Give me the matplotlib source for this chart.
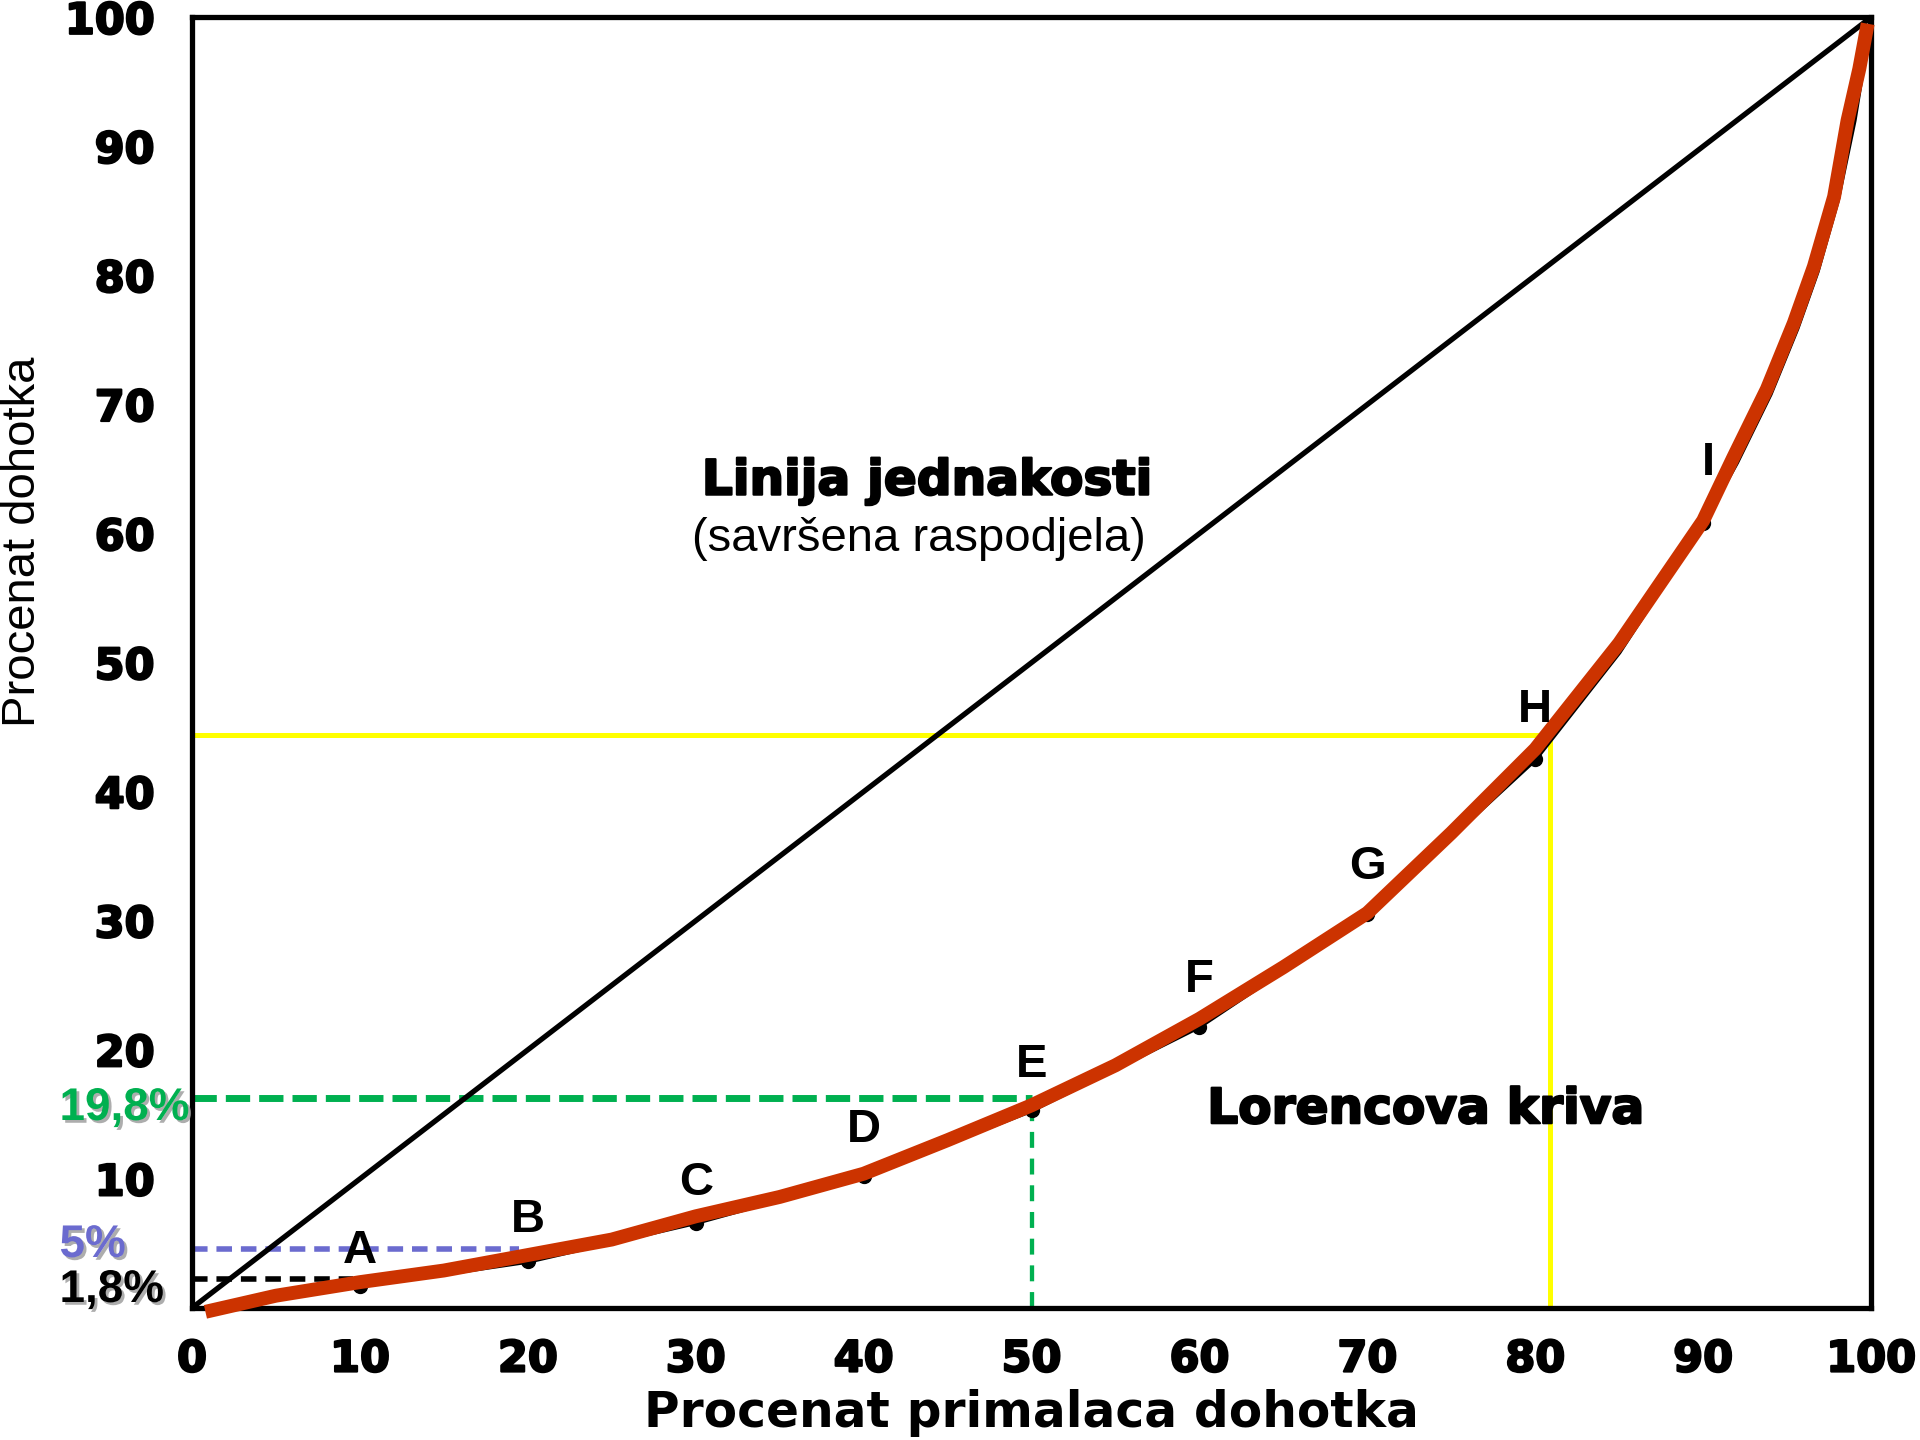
import matplotlib.pyplot as plt
import matplotlib.patheffects as pe

# Lorenz curve as drawn (red), percent of income receivers vs percent of income
red_x = [0.8, 5, 10, 15, 20, 25, 30, 35, 40, 45, 50, 55, 60, 65, 70, 75, 80, 85, 90,
         91.8, 93.8, 95.4, 96.6, 97.8, 98.6, 99.3, 99.8]
red_y = [-0.3, 0.95, 2.0, 2.9, 4.1, 5.3, 7.1, 8.6, 10.4, 13.0, 15.7, 18.8, 22.4, 26.4, 30.6,
         36.8, 43.3, 51.5, 61.0, 65.9, 71.2, 76.3, 80.7, 86.1, 92.0, 96.0, 99.5]

# original black curve under the red one
black_x = [10, 20, 30, 40, 50, 60, 70, 80, 85, 90, 92, 94, 95.6, 96.8, 98, 99, 100]
black_y = [1.7, 3.6, 6.6, 10.2, 15.3, 21.8, 30.5, 42.5, 50.8, 60.8, 65.5, 70.8, 75.9, 80.3, 85.8, 92.0, 100]

# labelled points A..I
point_names = ["A", "B", "C", "D", "E", "F", "G", "H", "I"]
point_x = [10, 20, 30, 40, 50, 60, 70, 80, 90]
point_y = [1.7, 3.6, 6.6, 10.2, 15.3, 21.8, 30.5, 42.5, 60.8]
label_x = [10, 20, 30, 40, 50, 60, 70, 80, 90.3]
label_y = [4.4, 6.8, 9.7, 13.8, 18.8, 25.4, 34.2, 46.3, 65.5]

xticks = [0, 10, 20, 30, 40, 50, 60, 70, 80, 90, 100]
yticks = [10, 20, 30, 40, 50, 60, 70, 80, 90, 100]

# guide lines (level, end)
green_level, green_x = 16.3, 50
blue_level, blue_end = 4.55, 19.5
black_level, black_end = 2.28, 9.6
yellow_level, yellow_x = 44.4, 80.9

red = "#CC3300"
green = "#00B050"
blue = "#6B6BCF"
yellow = "#FFFF00"

heavy = [pe.withStroke(linewidth=1.6, foreground="black")]

fig = plt.figure(figsize=(19.2, 14.4), dpi=100)
ax = fig.add_axes([0.1, 0.0917, 0.8745, 0.8963])
ax.set_xlim(0, 100)
ax.set_ylim(0, 100)

# guide lines
ax.plot([0, yellow_x], [yellow_level, yellow_level], color=yellow, lw=3.6)
ax.plot([yellow_x, yellow_x], [0, yellow_level], color=yellow, lw=3.6)
ax.plot([0, green_x], [green_level, green_level], color=green, lw=5, ls=(0, (3.5, 1.3)))
ax.plot([green_x, green_x], [0, green_level], color=green, lw=3.1, ls=(0, (3.7, 2.5)))
ax.plot([0, blue_end], [blue_level, blue_level], color=blue, lw=4, ls=(0, (2.8, 1.6)))
ax.plot([0, black_end], [black_level, black_level], color="black", lw=4, ls=(0, (2.8, 1.6)))

# line of equality
ax.plot([0, 100], [0, 100], color="black", lw=3.8)

# original black curve with points, red curve on top
ax.plot(black_x, black_y, color="black", lw=3.4)
ax.plot(point_x, point_y, "o", color="black", ms=10)
ax.plot(red_x, red_y, color=red, lw=10, solid_capstyle="butt", solid_joinstyle="round",
        clip_on=False, zorder=5)

for name, lx, ly in zip(point_names, label_x, label_y):
    ax.text(lx, ly, name, fontsize=34, fontweight="bold", ha="center", va="center",
            family="Liberation Sans", zorder=6)

ax.text(43.8, 64.1, "Linija jednakosti", fontsize=35, fontweight="bold", ha="center", va="center",
        family="DejaVu Sans", path_effects=heavy)
ax.text(43.3, 59.6, "(savršena raspodjela)", fontsize=34, ha="center", va="center",
        family="Liberation Sans")
ax.text(73.5, 15.4, "Lorencova kriva", fontsize=35, fontweight="bold", ha="center", va="center",
        family="DejaVu Sans", path_effects=heavy)

# percent labels with shadow
shadow = [pe.SimplePatchShadow(offset=(2, -2), shadow_rgbFace="#999999", alpha=0.8), pe.Normal()]
fig.text(0.031, 1 - 1108 / 1440, "19,8%", fontsize=33, fontweight="bold", color=green,
         ha="left", va="center", family="Liberation Sans", path_effects=shadow)
fig.text(0.031, 1 - 1245 / 1440, "5%", fontsize=33, fontweight="bold", color=blue,
         ha="left", va="center", family="Liberation Sans", path_effects=shadow)
fig.text(0.031, 1 - 1290 / 1440, "1,8%", fontsize=33, fontweight="bold", color="black",
         ha="left", va="center", family="Liberation Sans", path_effects=shadow)

ax.set_xticks(xticks)
ax.set_yticks(yticks)
ax.tick_params(axis="x", length=0, labelsize=31, pad=22)
ax.tick_params(axis="y", length=0, labelsize=31, pad=27)
for lab in ax.get_xticklabels() + ax.get_yticklabels():
    lab.set_fontweight("bold")
    lab.set_family("DejaVu Sans")
    lab.set_path_effects(heavy)
for side in ["left", "right", "top", "bottom"]:
    ax.spines[side].set_linewidth(3.8)

ax.set_xlabel("Procenat primalaca dohotka", fontsize=35, fontweight="bold", family="DejaVu Sans", labelpad=6)
fig.text(0.012, 1 - 542 / 1440, "Procenat dohotka", fontsize=34, rotation=90, ha="center", va="center",
         family="Liberation Sans")

fig.savefig("out.png", dpi=100)
